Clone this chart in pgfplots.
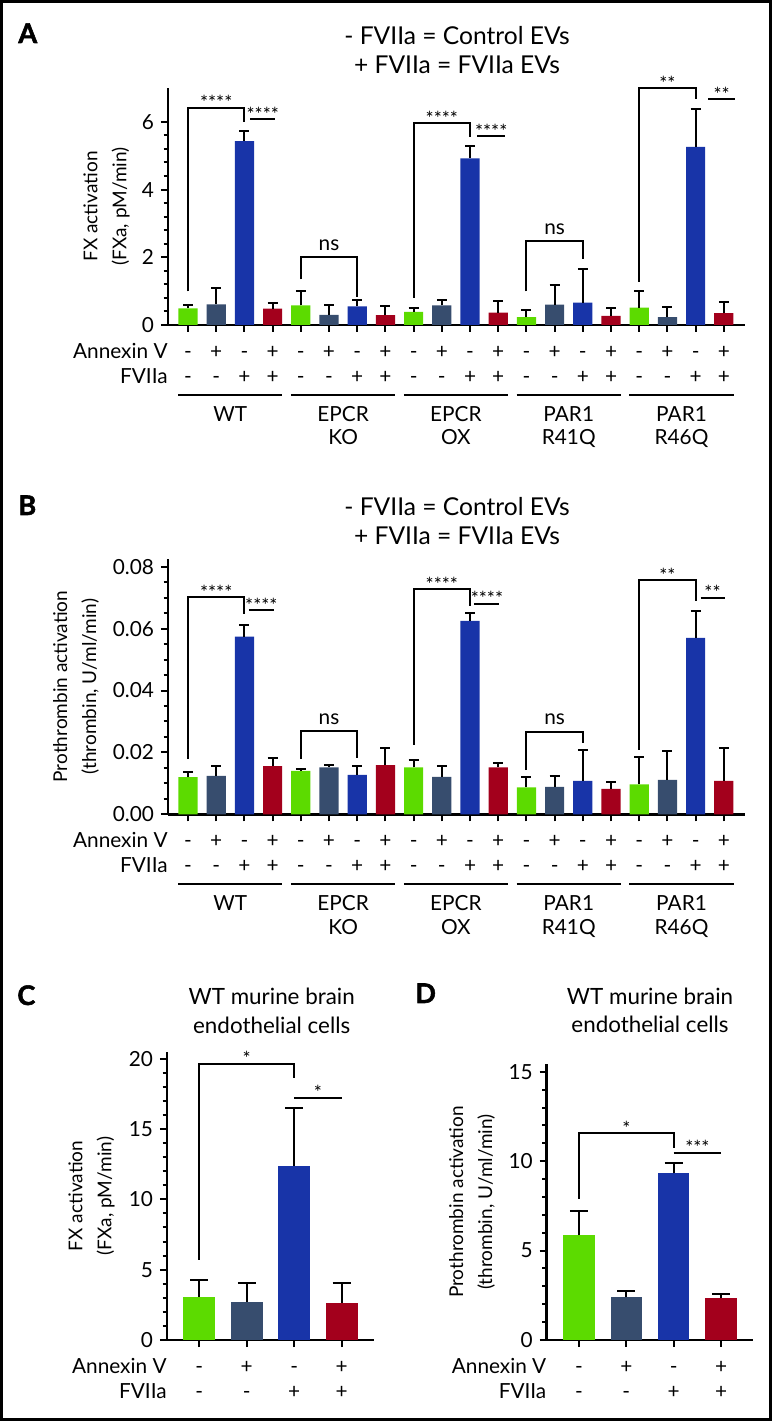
\documentclass[border=0pt]{standalone}
\usepackage{pgfplots}
\pgfplotsset{compat=1.18}
\usepackage{pgfplotstable}
\usepackage{fontspec}
\setmainfont{Lato}
\newfontfamily\letfam{Lato}[BoldFeatures={FakeBold=2}]
\definecolor{cg}{HTML}{5CDB00}
\definecolor{cs}{HTML}{374D6E}
\definecolor{cb}{HTML}{1834A8}
\definecolor{cr}{HTML}{A3001C}

\newcommand\lbfont{\fontsize{10.4}{12}\selectfont}
\newcommand\stfont{\fontsize{9.5}{10}\selectfont}
\newcommand\ylfont{\fontsize{9.5}{14.5}\selectfont}
\newcommand\ttAfont{\fontsize{12.3}{14}\selectfont}
\newcommand\ttCfont{\fontsize{11.2}{14}\selectfont}
\newcommand\letfont{\letfam\bfseries\fontsize{13.5}{15}\selectfont}

\pgfplotstableread{
x g ge s se b be r re
0 0.49 0.11 0.61 0.48 5.43 0.30 0.48 0.18
4 0.58 0.41 0.30 0.28 0.55 0.18 0.29 0.27
8 0.39 0.11 0.58 0.16 4.92 0.36 0.365 0.335
12 0.23 0.21 0.60 0.58 0.66 0.99 0.27 0.22
16 0.51 0.49 0.23 0.30 5.26 1.13 0.35 0.34
}\dataA
\pgfplotstableread{
x g ge s se b be r re
0 0.0120 0.0018 0.0124 0.0032 0.0574 0.0038 0.0156 0.0027
4 0.0140 0.0007 0.0152 0.0006 0.0127 0.0029 0.0159 0.0056
8 0.0152 0.0022 0.0121 0.0036 0.0625 0.0026 0.0152 0.0015
12 0.0087 0.0033 0.0089 0.0035 0.0108 0.0100 0.0082 0.0022
16 0.0097 0.0088 0.0111 0.0094 0.0570 0.0086 0.0108 0.0105
}\dataB
\pgfplotstableread{
x g ge s se b be r re
0 3.06 1.21 2.73 1.35 12.40 4.08 2.65 1.38
}\dataC
\pgfplotstableread{
x g ge s se b be r re
0 5.86 1.37 2.39 0.35 9.32 0.56 2.33 0.22
}\dataD

\pgfplotsset{
  panel/.style={scale only axis, anchor=south west, axis lines=left,
    axis line style={line width=1.3pt,-}, tick align=outside,
    major tick length=3.5pt, minor tick length=2.2pt,
    tick style={line width=1pt, black},
    clip=false, xticklabels={}, ymin=0,
    yticklabel style={font=\lbfont},
    /pgf/number format/assume math mode=true},
  barplot/.style 2 args={ybar, bar shift=0pt, bar width=#1, fill=#2, draw=none,
    error bars/y dir=plus, error bars/y explicit,
    error bars/error bar style={line width=1pt, black}},
  ecap/.style={error bars/error mark options={rotate=90, line width=1pt, black, mark size=#1}},
}
\tikzset{
  br/.style={line width=1pt, black},
  gl/.style={line width=1pt, black},
  st/.style={anchor=base, yshift=-1pt, font=\stfont, inner sep=0pt},
  ns/.style={anchor=base, yshift=3.5pt, font=\lbfont, inner sep=0pt},
  sg/.style={anchor=base, font=\lbfont, inner sep=0pt},
}

\newcommand\rows[1]{%
  \node[sg, anchor=base east] at ([yshift=-16.7pt]rel axis cs:0,0) {Annexin V};
  \node[sg, anchor=base east] at ([yshift=-29.2pt]rel axis cs:0,0) {FVIIa};
  \pgfplotsinvokeforeach{0,...,#1}{
    \node[sg] at ([yshift=-16.7pt]axis cs:##1,0) {\ifodd##1 +\else -\fi};
    \node[sg] at ([yshift=-29.2pt]axis cs:##1,0) {\pgfmathtruncatemacro\q{mod(##1,4)}\ifnum\q>1 +\else -\fi};
  }%
}
\newcommand\grp[5]{%
  \draw[gl] ([yshift=-35pt]axis cs:#1,0) -- ([yshift=-35pt]axis cs:#2,0);
  \node[sg] at ([yshift=-48.3pt]axis cs:#3,0) {#4};
  \node[sg] at ([yshift=-60pt]axis cs:#3,0) {#5};
}
\newcommand\groups{%
  \grp{-0.35}{3.35}{1.5}{WT}{}
  \grp{3.65}{7.35}{5.5}{EPCR}{KO}
  \grp{7.65}{11.35}{9.5}{EPCR}{OX}
  \grp{11.65}{15.35}{13.5}{PAR1}{R41Q}
  \grp{15.65}{19.35}{17.5}{PAR1}{R46Q}
}

\begin{document}
\begin{tikzpicture}
\useasboundingbox (0,0) rectangle (386pt,710.5pt);
\draw[line width=1.5pt] (0.75pt,0.75pt) rectangle (385.25pt,709.75pt);

% ---------------- A ----------------
\begin{axis}[panel, at={(84pt,548pt)}, width=288.5pt, height=118.5pt,
  xmin=-0.71, xmax=19.75, ymax=7, xtick={0,...,19},
  ytick={0,2,4,6}, minor y tick num=4]
\addplot[barplot={9.6pt}{cg}, ecap=2.5pt] table[x=x, y=g, y error=ge]{\dataA};
\addplot[barplot={9.6pt}{cs}, ecap=2.5pt] table[x expr=\thisrow{x}+1, y=s, y error=se]{\dataA};
\addplot[barplot={9.6pt}{cb}, ecap=2.5pt] table[x expr=\thisrow{x}+2, y=b, y error=be]{\dataA};
\addplot[barplot={9.6pt}{cr}, ecap=2.5pt] table[x expr=\thisrow{x}+3, y=r, y error=re]{\dataA};
\draw[br] (axis cs:0,0.99) |- (axis cs:2,6.41) -- (axis cs:2,6.0);
\node[st] at (axis cs:1,6.41) {****};
\draw[br] (axis cs:2.2,6.07) -- (axis cs:3.1,6.07);
\node[st] at (axis cs:2.65,6.07) {****};
\draw[br] (axis cs:4,1.35) |- (axis cs:6,2.0) -- (axis cs:6,0.84);
\node[ns] at (axis cs:5,2.0) {ns};
\draw[br] (axis cs:8,0.81) |- (axis cs:10,5.96) -- (axis cs:10,5.56);
\node[st] at (axis cs:9,5.96) {****};
\draw[br] (axis cs:10.25,5.57) -- (axis cs:11.25,5.57);
\node[st] at (axis cs:10.75,5.57) {****};
\draw[br] (axis cs:12,0.99) |- (axis cs:14,2.47) -- (axis cs:14,1.95);
\node[ns] at (axis cs:13,2.47) {ns};
\draw[br] (axis cs:16,1.28) |- (axis cs:18,6.99) -- (axis cs:18,6.67);
\node[st] at (axis cs:17,6.99) {**};
\draw[br] (axis cs:18.45,6.67) -- (axis cs:19.4,6.67);
\node[st] at (axis cs:18.92,6.67) {**};
\rows{19}
\groups
\end{axis}

% ---------------- B ----------------
\begin{axis}[panel, at={(84pt,303.35pt)}, width=288.5pt, height=127.65pt,
  xmin=-0.71, xmax=19.75, ymax=0.0825, xtick={0,...,19},
  ytick={0,0.02,0.04,0.06,0.08}, minor y tick num=3, scaled y ticks=false,
  yticklabel style={/pgf/number format/fixed, /pgf/number format/fixed zerofill,
    /pgf/number format/precision=2}]
\addplot[barplot={9.6pt}{cg}, ecap=2.5pt] table[x=x, y=g, y error=ge]{\dataB};
\addplot[barplot={9.6pt}{cs}, ecap=2.5pt] table[x expr=\thisrow{x}+1, y=s, y error=se]{\dataB};
\addplot[barplot={9.6pt}{cb}, ecap=2.5pt] table[x expr=\thisrow{x}+2, y=b, y error=be]{\dataB};
\addplot[barplot={9.6pt}{cr}, ecap=2.5pt] table[x expr=\thisrow{x}+3, y=r, y error=re]{\dataB};
\draw[br] (axis cs:0,0.0179) |- (axis cs:2,0.0701) -- (axis cs:2,0.0647);
\node[st] at (axis cs:1,0.0701) {****};
\draw[br] (axis cs:2.16,0.066) -- (axis cs:3.05,0.066);
\node[st] at (axis cs:2.6,0.066) {****};
\draw[br] (axis cs:4,0.0179) |- (axis cs:6,0.0269) -- (axis cs:6,0.0183);
\node[ns] at (axis cs:5,0.0269) {ns};
\draw[br] (axis cs:8,0.0224) |- (axis cs:10,0.0728) -- (axis cs:10,0.0674);
\node[st] at (axis cs:9,0.0728) {****};
\draw[br] (axis cs:10.14,0.068) -- (axis cs:11.03,0.068);
\node[st] at (axis cs:10.6,0.068) {****};
\draw[br] (axis cs:12,0.0143) |- (axis cs:14,0.0267) -- (axis cs:14,0.0229);
\node[ns] at (axis cs:13,0.0267) {ns};
\draw[br] (axis cs:16,0.0208) |- (axis cs:18,0.0757) -- (axis cs:18,0.0689);
\node[st] at (axis cs:17,0.0757) {**};
\draw[br] (axis cs:18.18,0.070) -- (axis cs:19.04,0.070);
\node[st] at (axis cs:18.6,0.070) {**};
\rows{19}
\groups
\end{axis}

% ---------------- C ----------------
\begin{axis}[panel, at={(83.5pt,40.5pt)}, width=103.5pt, height=144.15pt,
  xmin=-0.68, xmax=3.68, ymax=20.5, xtick={0,...,3},
  ytick={0,5,10,15,20}, minor y tick num=4]
\addplot[barplot={15.8pt}{cg}, ecap=4.5pt] table[x=x, y=g, y error=ge]{\dataC};
\addplot[barplot={15.8pt}{cs}, ecap=4.5pt] table[x expr=\thisrow{x}+1, y=s, y error=se]{\dataC};
\addplot[barplot={15.8pt}{cb}, ecap=4.5pt] table[x expr=\thisrow{x}+2, y=b, y error=be]{\dataC};
\addplot[barplot={15.8pt}{cr}, ecap=4.5pt] table[x expr=\thisrow{x}+3, y=r, y error=re]{\dataC};
\draw[br] (axis cs:0,5.69) |- (axis cs:2,19.63) -- (axis cs:2,18.6);
\node[st] at (axis cs:1,19.63) {*};
\draw[br] (axis cs:2,17.23) -- (axis cs:3,17.23);
\node[st] at (axis cs:2.5,17.23) {*};
\rows{3}
\end{axis}

% ---------------- D ----------------
\begin{axis}[panel, at={(273.35pt,40.5pt)}, width=103.3pt, height=137.85pt,
  xmin=-0.68, xmax=3.68, ymax=15.42, xtick={0,...,3},
  ytick={0,5,10,15}, minor y tick num=4]
\addplot[barplot={15.8pt}{cg}, ecap=4.5pt] table[x=x, y=g, y error=ge]{\dataD};
\addplot[barplot={15.8pt}{cs}, ecap=4.5pt] table[x expr=\thisrow{x}+1, y=s, y error=se]{\dataD};
\addplot[barplot={15.8pt}{cb}, ecap=4.5pt] table[x expr=\thisrow{x}+2, y=b, y error=be]{\dataD};
\addplot[barplot={15.8pt}{cr}, ecap=4.5pt] table[x expr=\thisrow{x}+3, y=r, y error=re]{\dataD};
\draw[br] (axis cs:0,7.89) |- (axis cs:2,11.56) -- (axis cs:2,10.72);
\node[st] at (axis cs:1,11.56) {*};
\draw[br] (axis cs:2,10.47) -- (axis cs:3,10.47);
\node[st] at (axis cs:2.5,10.47) {***};
\rows{3}
\end{axis}

% ---------------- texts (pixel frame, y down) ----------------
\begin{scope}[x=0.5pt, y=-0.5pt, shift={(0pt,710.5pt)}]
\node[anchor=base west, inner sep=0pt, font=\letfont] at (18,43) {A};
\node[anchor=base west, inner sep=0pt, font=\letfont] at (18,515) {B};
\node[anchor=base west, inner sep=0pt, font=\letfont] at (17,1005) {C};
\node[anchor=base west, inner sep=0pt, font=\letfont] at (415,1003) {D};
\node[anchor=base, inner sep=0pt, font=\ttAfont] at (457,45) {- FVIIa = Control EVs};
\node[anchor=base, inner sep=0pt, font=\ttAfont] at (457,73.3) {+ FVIIa = FVIIa EVs};
\node[anchor=base, inner sep=0pt, font=\ttAfont] at (457,516) {- FVIIa = Control EVs};
\node[anchor=base, inner sep=0pt, font=\ttAfont] at (457,545) {+ FVIIa = FVIIa EVs};
\node[anchor=base, inner sep=0pt, font=\ttCfont] at (271.7,1005) {WT murine brain};
\node[anchor=base, inner sep=0pt, font=\ttCfont] at (271.7,1034) {endothelial cells};
\node[anchor=base, inner sep=0pt, font=\ttCfont] at (650,1005) {WT murine brain};
\node[anchor=base, inner sep=0pt, font=\ttCfont] at (650,1033) {endothelial cells};
\node[rotate=90, align=center, inner sep=0pt, font=\ylfont] at (106.5,206.5) {FX activation\\(FXa, pM/min)};
\node[rotate=90, align=center, inner sep=0pt, font=\ylfont] at (76,686.5) {Prothrombin activation\\(thrombin, U/ml/min)};
\node[rotate=90, align=center, inner sep=0pt, font=\ylfont] at (91.5,1196) {FX activation\\(FXa, pM/min)};
\node[rotate=90, align=center, inner sep=0pt, font=\ylfont] at (472,1202) {Prothrombin activation\\(thrombin, U/ml/min)};
\end{scope}
\end{tikzpicture}
\end{document}
